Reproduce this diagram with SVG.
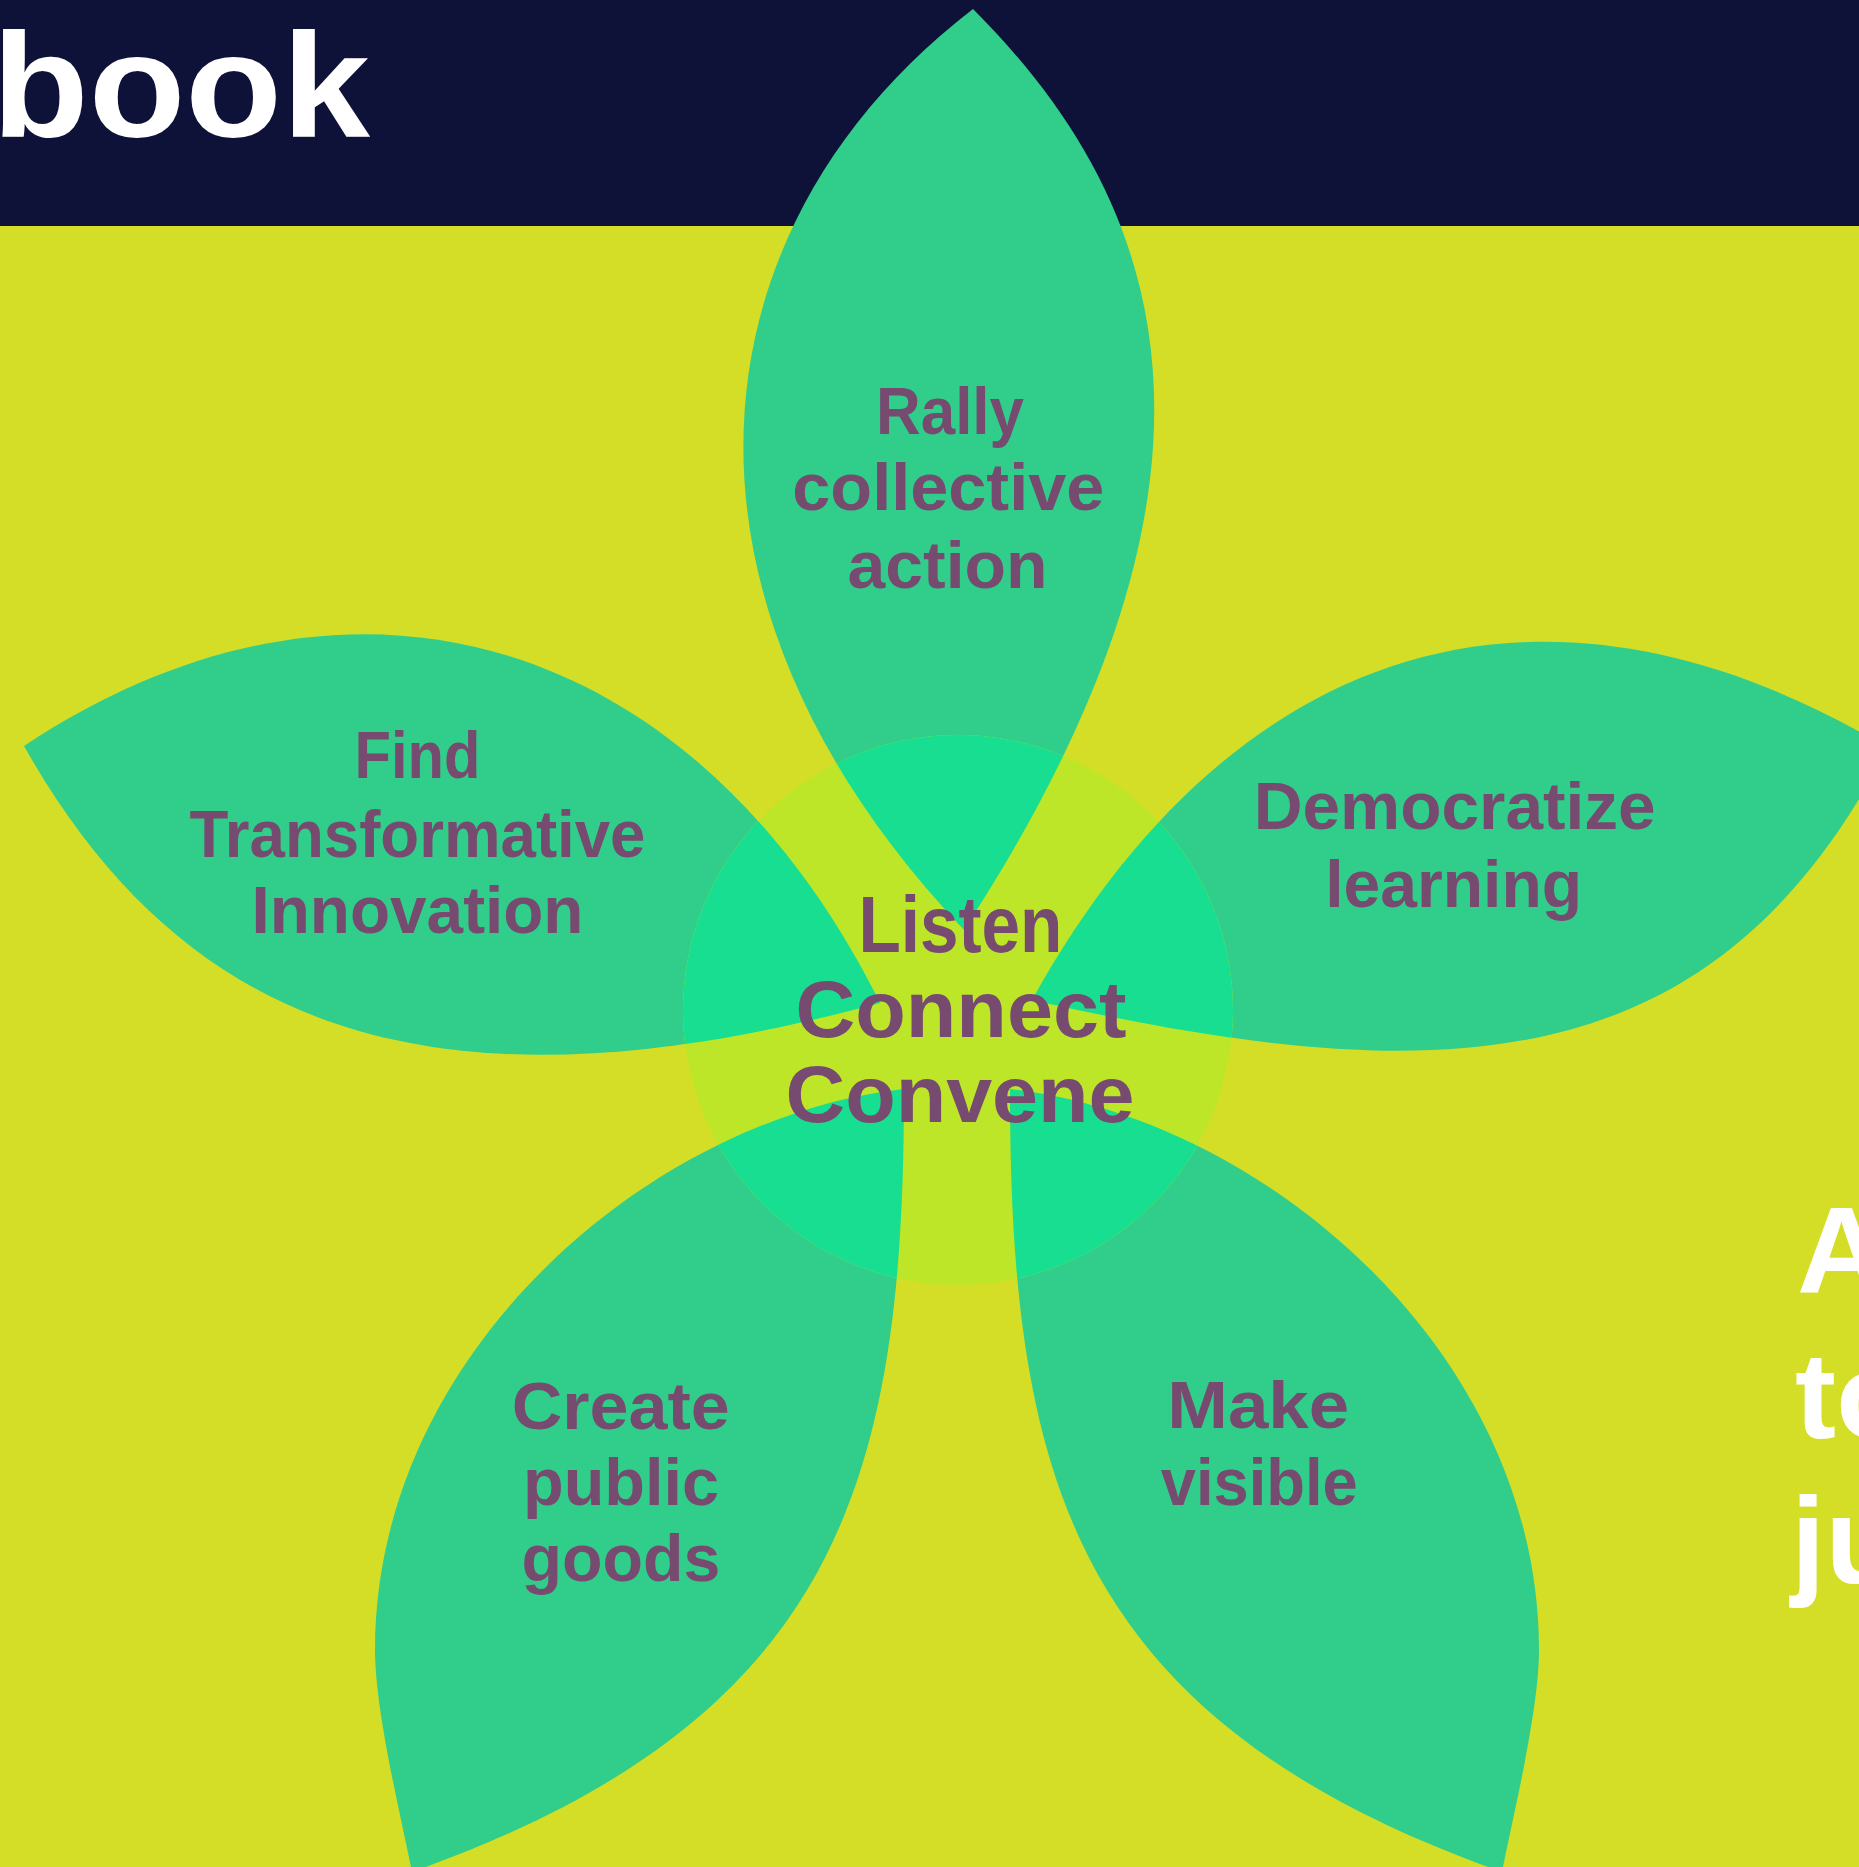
<svg xmlns="http://www.w3.org/2000/svg" xmlns:xlink="http://www.w3.org/1999/xlink" width="1859" height="1867" viewBox="0 0 1859 1867">
<style>
.petal{fill:#31CE8B}
.inner{fill:#17DE90}
.lbl{font-family:"Liberation Sans",Arial,sans-serif;font-weight:bold;fill:#774B70;text-anchor:middle}
.p{font-size:66px}
.c{font-size:80px}
.w{font-family:"Liberation Sans",Arial,sans-serif;font-weight:bold;fill:#FFFFFF}
</style>
<defs>
<path id="shape-top" d="M973,9 C1173,209 1256.5,480 964,930 C650.5,600 687,229 973,9 Z"/>
<path id="shape-left" d="M24,746 C350,530 695,633 880,1003 C460,1116 195,1050 24,746 Z"/>
<path id="shape-right" d="M1888,748 C1525,532 1220,660 1032,1000 C1452,1095 1715,1080 1888,748 Z"/>
<path id="shape-ll" d="M904,1089 C654,1116.5 375,1350 375,1650 C375,1710 400,1812 412,1872 C840,1720 904,1480 904,1089 Z"/>
<path id="shape-lr" d="M1010,1089 C1260,1116.5 1539,1350 1539,1650 C1539,1710 1514,1812 1502,1872 C1074,1720 1010,1480 1010,1089 Z"/>
<clipPath id="hub-clip"><circle cx="958" cy="1010" r="275"/></clipPath>
</defs>
<g id="background">
<rect x="0" y="0" width="1859" height="1867" fill="#D5DE26"/>
<rect x="0" y="0" width="1859" height="226" fill="#0F1238"/>
<text class="w" x="-8" y="137" font-size="148" textLength="378" lengthAdjust="spacingAndGlyphs">book</text>
<text class="w" x="1797" y="1293" font-size="123">A</text>
<text class="w" x="1795" y="1438" font-size="123">to</text>
<text class="w" x="1791" y="1583" font-size="123">ju</text>
</g>
<g id="petal-rally">
<use xlink:href="#shape-top" class="petal"/>
<text class="lbl p" x="950" y="434" textLength="148" lengthAdjust="spacingAndGlyphs">Rally</text>
<text class="lbl p" x="948.3" y="510" textLength="312" lengthAdjust="spacingAndGlyphs">collective</text>
<text class="lbl p" x="947.5" y="588" textLength="200" lengthAdjust="spacingAndGlyphs">action</text>
</g>
<g id="petal-find">
<use xlink:href="#shape-left" class="petal"/>
<text class="lbl p" x="417.5" y="778" textLength="126" lengthAdjust="spacingAndGlyphs">Find</text>
<text class="lbl p" x="417.5" y="857" textLength="456" lengthAdjust="spacingAndGlyphs">Transformative</text>
<text class="lbl p" x="417.5" y="933" textLength="332" lengthAdjust="spacingAndGlyphs">Innovation</text>
</g>
<g id="petal-democratize">
<use xlink:href="#shape-right" class="petal"/>
<text class="lbl p" x="1454.7" y="829" textLength="402" lengthAdjust="spacingAndGlyphs">Democratize</text>
<text class="lbl p" x="1453.7" y="907" textLength="257" lengthAdjust="spacingAndGlyphs">learning</text>
</g>
<g id="petal-create">
<use xlink:href="#shape-ll" class="petal"/>
<text class="lbl p" x="620.7" y="1429" textLength="218" lengthAdjust="spacingAndGlyphs">Create</text>
<text class="lbl p" x="621" y="1505" textLength="196" lengthAdjust="spacingAndGlyphs">public</text>
<text class="lbl p" x="621" y="1581" textLength="199" lengthAdjust="spacingAndGlyphs">goods</text>
</g>
<g id="petal-make">
<use xlink:href="#shape-lr" class="petal"/>
<text class="lbl p" x="1258.3" y="1428" textLength="182" lengthAdjust="spacingAndGlyphs">Make</text>
<text class="lbl p" x="1259.2" y="1505" textLength="197" lengthAdjust="spacingAndGlyphs">visible</text>
</g>
<g id="hub">
<circle cx="958" cy="1010" r="275" fill="#BEE628"/>
<g clip-path="url(#hub-clip)">
<use xlink:href="#shape-top" class="inner"/>
<use xlink:href="#shape-left" class="inner"/>
<use xlink:href="#shape-right" class="inner"/>
<use xlink:href="#shape-ll" class="inner"/>
<use xlink:href="#shape-lr" class="inner"/>
</g>
<text class="lbl c" x="960.4" y="952" textLength="204" lengthAdjust="spacingAndGlyphs">Listen</text>
<text class="lbl c" x="961" y="1037" textLength="331" lengthAdjust="spacingAndGlyphs">Connect</text>
<text class="lbl c" x="960" y="1122" textLength="349" lengthAdjust="spacingAndGlyphs">Convene</text>
</g>
<g id="connectors"></g>
</svg>
